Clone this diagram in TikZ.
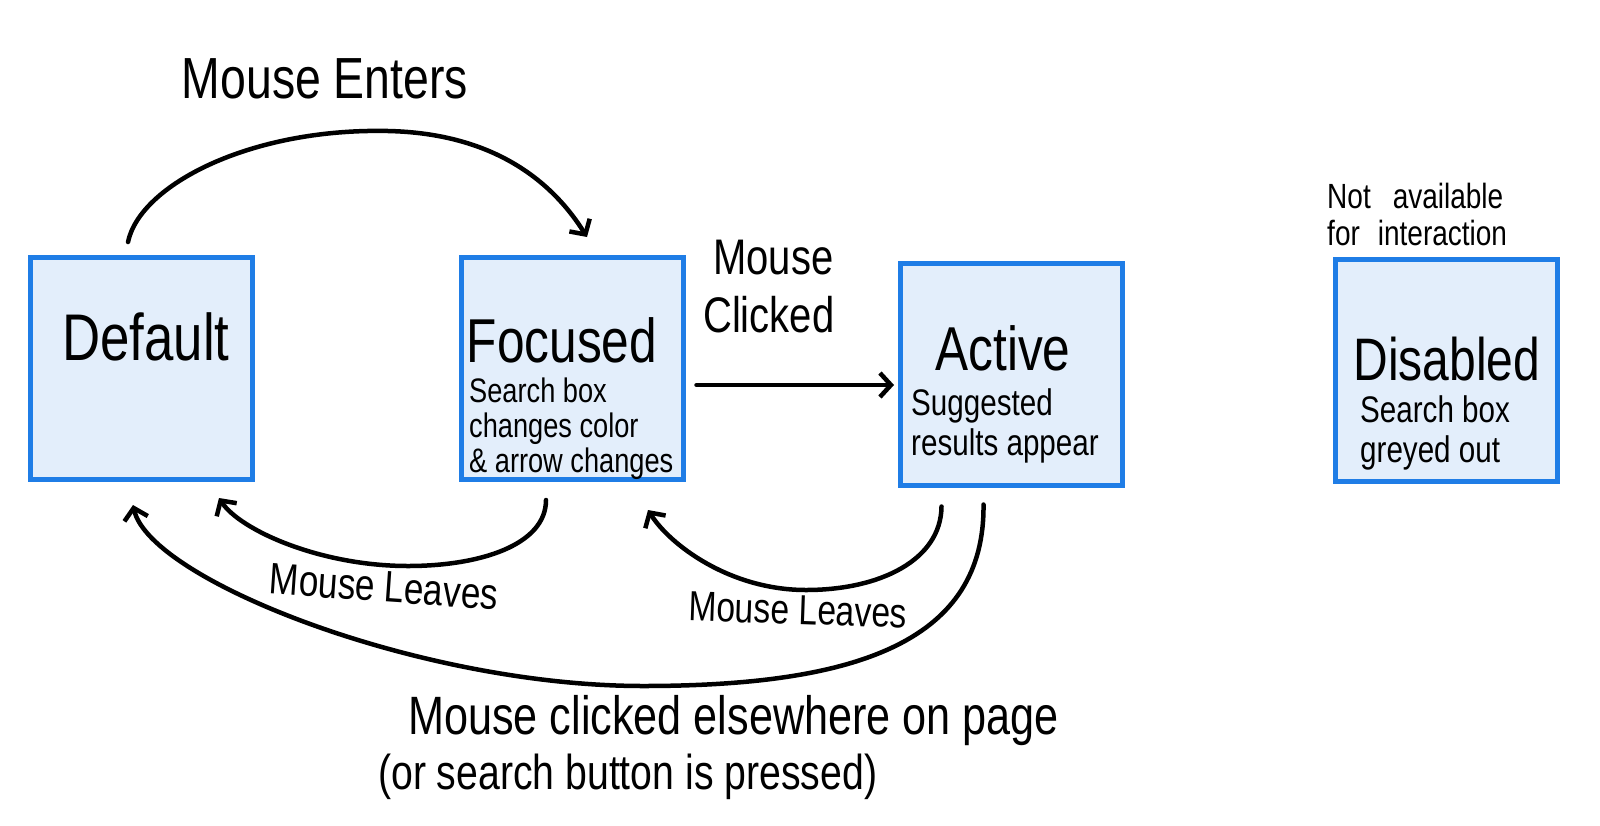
\documentclass[tikz,border=0pt]{standalone}
\usepackage{fontspec}
\setmainfont{Liberation Sans}[FakeStretch=0.8]
\usetikzlibrary{arrows.meta}
\definecolor{boxblue}{HTML}{1F7DE6}
\definecolor{boxfill}{HTML}{E3EEFB}
\newcommand{\fs}[1]{\fontsize{#1}{#1}\selectfont}
\tikzset{
  statebox/.style={draw=boxblue, fill=boxfill, line width=5pt, inner sep=0pt,
    minimum width=222pt, minimum height=222pt},
  title/.style={inner sep=0pt, font=\fs{62}},
  sub/.style={inner sep=0pt, align=left, anchor=west},
  lbl/.style={inner sep=0pt},
  arr/.style={line width=4.5pt, line cap=round, -{Straight Barb[length=11pt,width=24pt,line width=4.5pt]}},
}
\begin{document}
\begin{tikzpicture}[x=1pt,y=-1pt]
\path[use as bounding box, fill=white] (0,0) rectangle (1600,825);

% boxes
\node[statebox] (default)  at (141,368.5) {};
\node[statebox] (focused)  at (572,368.5) {};
\node[statebox] (active)   at (1011.5,374) {};
\node[statebox] (disabled) at (1446,370.5) {};

% titles
\node[title, font=\fs{66}] (tdefault) at (146,337) {Default};
\node[title] (tfocused) at (562,340) {Focused};
\node[title, font=\fs{62}] (tactive) at (1003,348) {Active};
\node[title, font=\fs{60}] (tdisabled) at (1447,359) {Disabled};

% subtexts
\node[sub, font=\fontsize{34}{35}\selectfont] (sfocused) at (469,429) {Search box\\changes color\\\& arrow changes};
\node[sub, font=\fontsize{37}{40}\selectfont] (sactive) at (911,426) {Suggested\\results appear};
\node[sub, font=\fontsize{37}{40}\selectfont] (sdisabled) at (1360,433) {Search box\\greyed out};
\node[sub, font=\fontsize{35}{37}\selectfont] (navail) at (1327,214) {Not\hspace{22pt}available\\for\hspace{18pt}interaction};

% labels
\node[lbl, font=\fs{58}] (lenters) at (325,79) {Mouse Enters};
\node[sub, font=\fontsize{50}{58}\selectfont] (lclicked) at (703,287) {\hspace*{10pt}Mouse\\Clicked};
\node[lbl, font=\fs{44}, rotate=-4] (lleaves1) at (384,587) {Mouse Leaves};
\node[lbl, font=\fs{42}, rotate=-2] (lleaves2) at (798,610) {Mouse Leaves};
\node[sub, font=\fontsize{54}{55}\selectfont] (lelse) at (378,748) {\hspace*{30pt}Mouse clicked elsewhere on page\\\fontsize{49}{55}\selectfont(or search button is pressed)};

% connectors
\draw[arr] ([shift={(-13pt,13pt)}]default.north)
  .. controls (140,185) and (250,128) .. (388,131)
  .. controls (480,133) and (545,170) .. ([shift={(15pt,18pt)}]focused.north);

\draw[arr, shorten >=4pt] ([shift={(11pt,-16.5pt)}]focused.east) coordinate (fa) -- (fa -| active.west);

\draw[arr] ([shift={(-26pt,-18pt)}]focused.south)
  .. controls (546,545) and (480,566) .. (408,566)
  .. controls (320,566) and (240,530) .. ([shift={(78pt,-16pt)}]default.south);

\draw[arr] ([shift={(-70pt,-19pt)}]active.south)
  .. controls (941,560) and (880,590) .. (806,590)
  .. controls (730,590) and (670,545) .. ([shift={(76pt,-28pt)}]focused.south);

\draw[arr] ([shift={(-28pt,-17pt)}]active.south)
  .. controls (985,640) and (860,686) .. (643,686)
  .. controls (420,686) and (150,580) .. ([shift={(-8pt,-23pt)}]default.south);
\end{tikzpicture}
\end{document}
